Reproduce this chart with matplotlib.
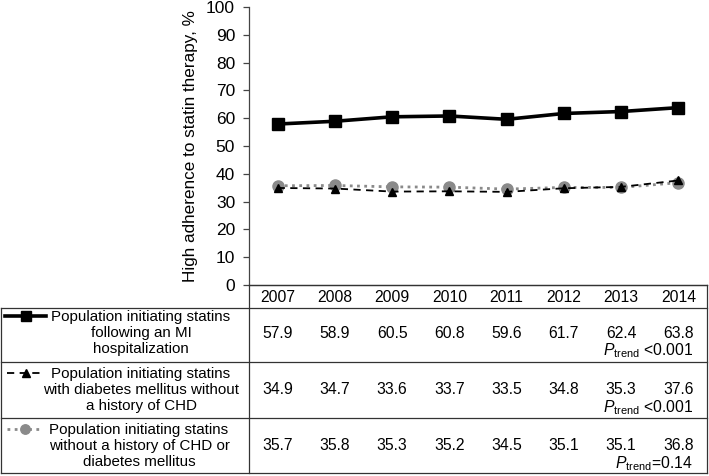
import matplotlib
matplotlib.use("Agg")
import matplotlib.pyplot as plt
import matplotlib.transforms as mtransforms

plt.rcParams["font.family"] = ["Liberation Sans", "DejaVu Sans"]
plt.rcParams["mathtext.fontset"] = "custom"
plt.rcParams["mathtext.rm"] = "Liberation Sans"
plt.rcParams["mathtext.it"] = "Liberation Sans:italic"

# ---- data ----------------------------------------------------
years = ["2007", "2008", "2009", "2010", "2011", "2012", "2013", "2014"]
mi_vals = [57.9, 58.9, 60.5, 60.8, 59.6, 61.7, 62.4, 63.8]
dm_vals = [34.9, 34.7, 33.6, 33.7, 33.5, 34.8, 35.3, 37.6]
nochd_vals = [35.7, 35.8, 35.3, 35.2, 34.5, 35.1, 35.1, 36.8]
row_labels = [
    "Population initiating statins\nfollowing an MI\nhospitalization",
    "Population initiating statins\nwith diabetes mellitus without\na history of CHD",
    "Population initiating statins\nwithout a history of CHD or\ndiabetes mellitus",
]
p_trend = [r"$\mathit{P}_{\mathrm{trend}}$ <0.001",
           r"$\mathit{P}_{\mathrm{trend}}$ <0.001",
           r"$\mathit{P}_{\mathrm{trend}}$=0.14"]

W, H = 709, 476
fig = plt.figure(figsize=(W / 100, H / 100), dpi=100)

# main plot area (pixel box 249..707 x 7..285)
ax = fig.add_axes([249 / W, 1 - 285 / H, (707 - 249) / W, (285 - 7) / H])
x = list(range(len(years)))

styles = [
    dict(color="black", lw=2.6, ls="-", marker="s", ms=8, mfc="black", mec="black"),
    dict(color="black", lw=1.3, ls=(0, (4, 3)), marker="^", ms=6, mfc="black", mec="black"),
    dict(color="#8a8a8a", lw=2.0, ls=(0, (1, 1.6)), marker="o", ms=8, mfc="#8a8a8a", mec="#8a8a8a"),
]
series = [mi_vals, dm_vals, nochd_vals]

ax.plot(x, dm_vals, zorder=3, **styles[1])
ax.plot(x, nochd_vals, zorder=2, **styles[2])
ax.plot(x, mi_vals, zorder=4, **styles[0])

ax.set_xlim(-0.5, len(years) - 0.5)
ax.set_ylim(0, 100)
ax.set_yticks(range(0, 101, 10))
ax.set_xticks([])
ax.tick_params(axis="y", length=4, width=0.9, pad=6, labelsize=12.5, color="#444444")
ax.set_ylabel("High adherence to statin therapy, %", fontsize=12.3, labelpad=6)
for s in ["top", "right"]:
    ax.spines[s].set_visible(False)
for s in ["left", "bottom"]:
    ax.spines[s].set_color("#444444")
    ax.spines[s].set_linewidth(0.9)

# ---- table under the plot -------------------------------------
ov = fig.add_axes([0, 0, 1, 1])
ov.set_xlim(0, W)
ov.set_ylim(H, 0)
ov.axis("off")
ov.patch.set_alpha(0)

lc = "#333333"
ov.plot([249, 707], [285, 285], color=lc, lw=0.9)
for yy in [308, 362, 418, 473]:
    ov.plot([1, 707], [yy, yy], color=lc, lw=0.9)
ov.plot([1, 1], [308, 473], color=lc, lw=0.9)
ov.plot([249, 249], [285, 473], color=lc, lw=0.9)
ov.plot([707, 707], [285, 473], color=lc, lw=0.9)

tr = mtransforms.blended_transform_factory(ax.transData, ov.transData)
fs = 11.3
for i, yr in enumerate(years):
    ov.text(i, 297, yr, transform=tr, ha="center", va="center", fontsize=fs)

row_mid = [333, 390, 446]
for r, vals in enumerate(series):
    for i, v in enumerate(vals):
        ov.text(i, row_mid[r], f"{v:.1f}", transform=tr, ha="center", va="center", fontsize=fs)
    ov.text(693, row_mid[r] + 18, p_trend[r], ha="right", va="center", fontsize=fs)

# row labels with legend samples
label_x = [141, 141, 139]
sample_x = [(5, 46), (7, 44), (7, 42)]
for r, lab in enumerate(row_labels):
    ov.text(label_x[r], row_mid[r], lab, ha="center", va="center", fontsize=10.9,
            multialignment="center", linespacing=1.22)
    x0, x1 = sample_x[r]
    st = dict(styles[r])
    ov.plot([x0, x1], [row_mid[r] - 17] * 2, marker="None",
            color=st["color"], lw=st["lw"], ls=st["ls"])
    ov.plot([(x0 + x1) / 2], [row_mid[r] - 17], ls="None", marker=st["marker"],
            ms=st["ms"] * 0.85, mfc=st["mfc"], mec=st["mec"])

fig.savefig("out.png", dpi=100)
